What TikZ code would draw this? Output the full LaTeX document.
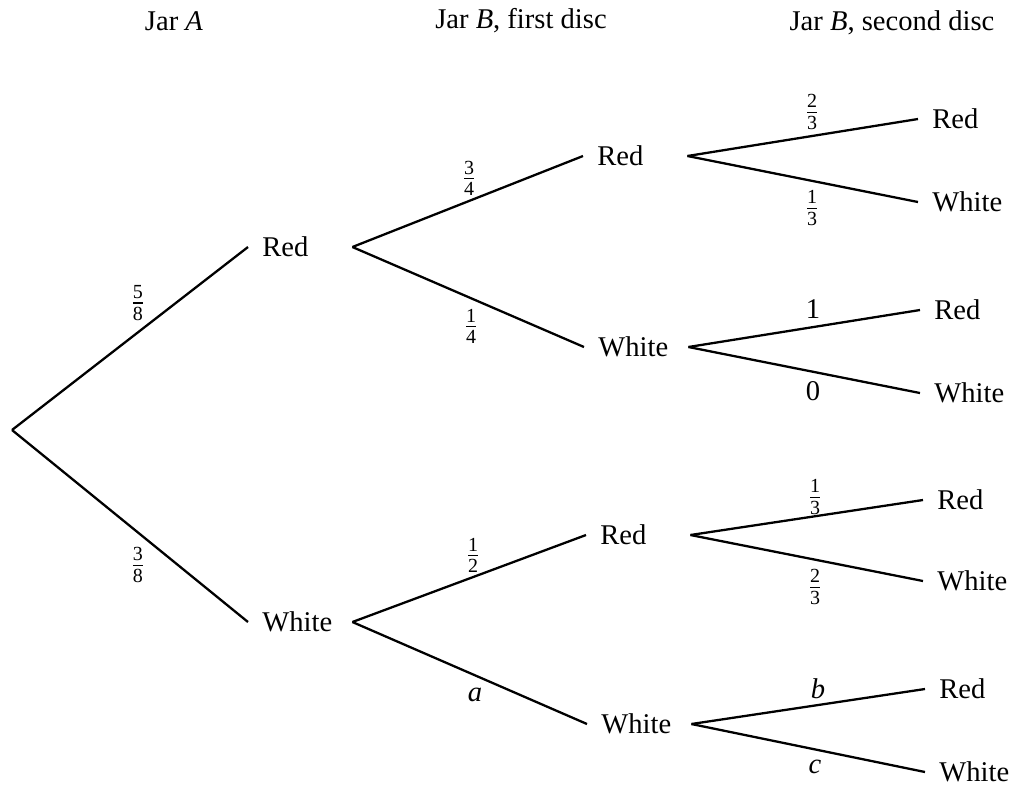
\documentclass[tikz,border=0pt]{standalone}
\usepackage{amsmath}
\usepackage{fontspec}
\setmainfont{Liberation Serif}

\tikzset{
	disc/.style={anchor=west, text width=0.93cm, align=left, inner xsep=0.17cm, inner ysep=2pt},
	prob/.style={inner sep=1pt},
	branch/.style={line width=0.8pt},
}
\newcommand{\pfrac}[2]{$\frac{\text{#1}}{\text{#2}}$}

\begin{document}
\begin{tikzpicture}[x=0.0123cm, y=-0.0123cm]
\useasboundingbox (0,0) rectangle (1015,786);

% column heads
\node (headA) at (174,21) {Jar \textit{A}};
\node (headB1) at (521,21) {Jar \textit{B}, first disc};
\node (headB2) at (892,23) {Jar \textit{B}, second disc};

\coordinate (start) at (12,430);

% Jar A
\node[disc] (R) at (248,247) {Red};
\node[disc] (W) at (248,622) {White};

% Jar B, first disc
\node[disc] (RR) at (583,156) {Red};
\node[disc] (RW) at (584,347) {White};
\node[disc] (WR) at (586,535) {Red};
\node[disc] (WW) at (587,724) {White};

% Jar B, second disc
\node[disc] (RRR) at (918,119) {Red};
\node[disc] (RRW) at (918,202) {White};
\node[disc] (RWR) at (920,310) {Red};
\node[disc] (RWW) at (920,393) {White};
\node[disc] (WRR) at (923,500) {Red};
\node[disc] (WRW) at (923,581) {White};
\node[disc] (WWR) at (925,689) {Red};
\node[disc] (WWW) at (925,772) {White};

% branches
\draw[branch] (start) -- (R.west);
\draw[branch] (start) -- (W.west);
\draw[branch] (R.east) -- (RR.west);
\draw[branch] (R.east) -- (RW.west);
\draw[branch] (W.east) -- (WR.west);
\draw[branch] (W.east) -- (WW.west);
\draw[branch] (RR.east) -- (RRR.west);
\draw[branch] (RR.east) -- (RRW.west);
\draw[branch] (RW.east) -- (RWR.west);
\draw[branch] (RW.east) -- (RWW.west);
\draw[branch] (WR.east) -- (WRR.west);
\draw[branch] (WR.east) -- (WRW.west);
\draw[branch] (WW.east) -- (WWR.west);
\draw[branch] (WW.east) -- (WWW.west);

% probabilities
\node[prob] (pR) at (138,303) {\pfrac{5}{8}};
\node[prob] (pW) at (138,565) {\pfrac{3}{8}};
\node[prob] (pRR) at (469,178) {\pfrac{3}{4}};
\node[prob] (pRW) at (471,326) {\pfrac{1}{4}};
\node[prob] (pWR) at (473,555) {\pfrac{1}{2}};
\node[prob] (pWW) at (475,695) {\textit{a}};
\node[prob] (pRRR) at (812,112) {\pfrac{2}{3}};
\node[prob] (pRRW) at (812,208) {\pfrac{1}{3}};
\node[prob] (pRWR) at (813,309) {1};
\node[prob] (pRWW) at (813,391) {0};
\node[prob] (pWRR) at (815,497) {\pfrac{1}{3}};
\node[prob] (pWRW) at (815,587) {\pfrac{2}{3}};
\node[prob] (pWWR) at (818,689) {\textit{b}};
\node[prob] (pWWW) at (815,767) {\textit{c}};
\end{tikzpicture}
\end{document}
